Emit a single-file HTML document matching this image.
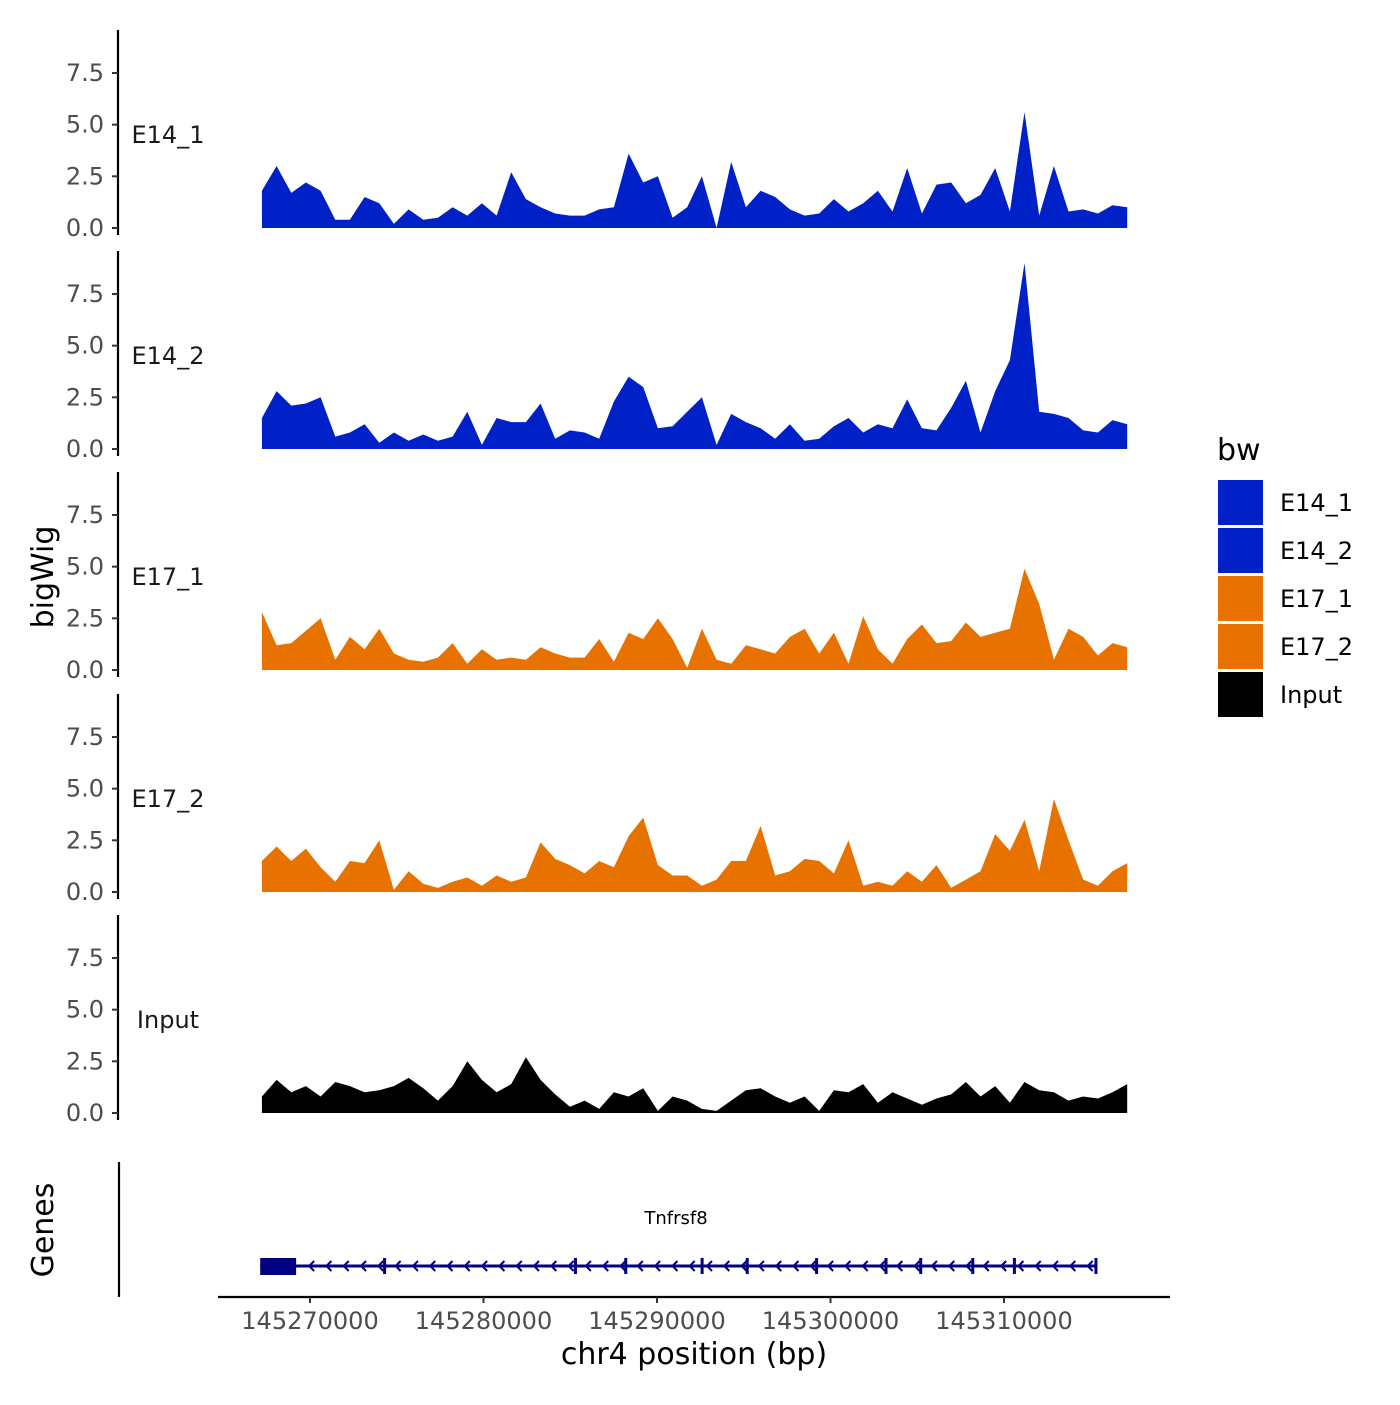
<!DOCTYPE html>
<html><head><meta charset="utf-8"><style>
html,body{margin:0;padding:0;background:#fff;}
svg text{font-family:"DejaVu Sans","Liberation Sans",sans-serif;}
</style></head><body>
<svg id="chart" width="1400" height="1400" xmlns="http://www.w3.org/2000/svg">
<rect width="1400" height="1400" fill="#fff"/>
</svg>
<script>
const trackNames = ["E14_1","E14_2","E17_1","E17_2","Input"];
const trackColors = ["#0020C8","#0020C8","#E87200","#E87200","#000000"];
const binStart = 145267230;
const binEnd = 145317100;
const e14_1 = [1.8,3.0,1.7,2.2,1.8,0.4,0.4,1.5,1.2,0.2,0.9,0.4,0.5,1.0,0.6,1.2,0.6,2.7,1.4,1.0,0.7,0.6,0.6,0.9,1.0,3.6,2.2,2.5,0.5,1.0,2.5,0,3.2,1.0,1.8,1.5,0.9,0.6,0.7,1.4,0.8,1.2,1.8,0.8,2.9,0.7,2.1,2.2,1.2,1.6,2.9,0.8,5.6,0.6,3.0,0.8,0.9,0.7,1.1,1.0];
const e14_2 = [1.5,2.8,2.1,2.2,2.5,0.6,0.8,1.2,0.3,0.8,0.4,0.7,0.4,0.6,1.8,0.2,1.5,1.3,1.3,2.2,0.5,0.9,0.8,0.5,2.3,3.5,3.0,1.0,1.1,1.8,2.5,0.2,1.7,1.3,1.0,0.5,1.2,0.4,0.5,1.1,1.5,0.8,1.2,1.0,2.4,1.0,0.9,2.0,3.3,0.8,2.8,4.3,9.0,1.8,1.7,1.5,0.9,0.8,1.4,1.2];
const e17_1 = [2.8,1.2,1.3,1.9,2.5,0.5,1.6,1.0,2.0,0.8,0.5,0.4,0.6,1.3,0.3,1.0,0.5,0.6,0.5,1.1,0.8,0.6,0.6,1.5,0.4,1.8,1.5,2.5,1.5,0.1,2.0,0.5,0.3,1.2,1.0,0.8,1.6,2.0,0.8,1.8,0.3,2.6,1.0,0.3,1.5,2.2,1.3,1.4,2.3,1.6,1.8,2.0,4.9,3.2,0.5,2.0,1.6,0.7,1.3,1.1];
const e17_2 = [1.5,2.2,1.5,2.1,1.2,0.5,1.5,1.4,2.5,0.1,1.0,0.4,0.2,0.5,0.7,0.3,0.8,0.5,0.7,2.4,1.6,1.3,0.9,1.5,1.2,2.7,3.6,1.3,0.8,0.8,0.3,0.6,1.5,1.5,3.2,0.8,1.0,1.6,1.5,0.9,2.5,0.3,0.5,0.3,1.0,0.5,1.3,0.2,0.6,1.0,2.8,2.0,3.5,1.0,4.5,2.5,0.6,0.3,1.0,1.4];
const inputSig = [0.8,1.6,1.0,1.3,0.8,1.5,1.3,1.0,1.1,1.3,1.7,1.2,0.6,1.3,2.5,1.6,1.0,1.4,2.7,1.6,0.9,0.3,0.6,0.2,1.0,0.8,1.2,0.1,0.8,0.6,0.2,0.1,0.6,1.1,1.2,0.8,0.5,0.8,0.1,1.1,1.0,1.4,0.5,1.0,0.7,0.4,0.7,0.9,1.5,0.8,1.3,0.5,1.5,1.1,1.0,0.6,0.8,0.7,1.0,1.4];
const trackValues = [e14_1,e14_2,e17_1,e17_2,inputSig];
const yTicks = [0,2.5,5,7.5];
const yTickLabels = ["0.0","2.5","5.0","7.5"];
const xTicks = [145270000,145280000,145290000,145300000,145310000];
const xTickLabels = ["145270000","145280000","145290000","145300000","145310000"];
const legendLabels = ["E14_1","E14_2","E17_1","E17_2","Input"];
const geneStart = 145267130;
const geneEnd = 145315360;
const geneThickEnd = 145269200;
const geneExons = [145274300,145285300,145288200,145292600,145295200,145299200,145303200,145305200,145308200,145310600,145315300];

const NS="http://www.w3.org/2000/svg";
const svg=document.getElementById('chart');
function mk(tag,attrs,parent){const e=document.createElementNS(NS,tag);for(const k in attrs)e.setAttribute(k,attrs[k]);(parent||svg).appendChild(e);return e;}
function xScale(bp){return 310+(bp-145270000)*0.01735;}
const zeros=[228,449,670,892,1113];
const pxPerUnit=20.67;
function yScale(t,v){return zeros[t]-v*pxPerUnit;}

for(let t=0;t<5;t++){
  const g=mk('g',{});
  
  
  const vals=trackValues[t];
  const step=(binEnd-binStart)/(vals.length-1);
  let d='M'+xScale(binStart)+','+zeros[t];
  vals.forEach((v,i)=>{d+=' L'+xScale(binStart+i*step).toFixed(1)+','+yScale(t,v).toFixed(1);});
  d+=' L'+xScale(binEnd)+','+zeros[t]+' Z';
  const p=mk('path',{d:d,fill:trackColors[t],stroke:'none'},g);
  
  
  const ax=mk('line',{x1:118,x2:118,y1:zeros[t]-198,y2:zeros[t]+7,stroke:'#000','stroke-width':2.2},g);
  
  
  yTicks.forEach((v,i)=>{
    const y=yScale(t,v);
    const tk=mk('line',{x1:112,x2:118,y1:y,y2:y,stroke:'#333','stroke-width':2},g);
    
    
    const tl=mk('text',{x:104,y:y+8,'text-anchor':'end','font-size':24,fill:'#4d4d4d'},g);
    tl.textContent=yTickLabels[i];
    
    
  });
  const lb=mk('text',{x:168,y:zeros[t]-85,'text-anchor':'middle','font-size':24,fill:'#1a1a1a'},g);
  lb.textContent=trackNames[t];
  
  
}

const yt=mk('text',{x:0,y:0,transform:'translate(53,577) rotate(-90)','text-anchor':'middle','font-size':30,fill:'#000'});
yt.textContent='bigWig';



const gp=mk('g',{});


const gax=mk('line',{x1:119,x2:119,y1:1162,y2:1297,stroke:'#000','stroke-width':2.2},gp);


const gt=mk('text',{x:0,y:0,transform:'translate(53,1230) rotate(-90)','text-anchor':'middle','font-size':30,fill:'#000'},gp);
gt.textContent='Genes';


const gl=mk('line',{x1:xScale(geneStart),x2:xScale(geneEnd),y1:1266,y2:1266,stroke:'#000080','stroke-width':3},gp);


for(let x=xScale(geneThickEnd)+14;x<xScale(geneEnd)-4;x+=17.3){
  const a=mk('path',{d:`M${x+4},1261 L${x-1},1266 L${x+4},1271`,fill:'none',stroke:'#000080','stroke-width':2},gp);
  
  
}
geneExons.forEach(b=>{
  const x=xScale(b);
  const e=mk('rect',{x:x-1.5,y:1258,width:3,height:16,fill:'#000080'},gp);
  
  
});
const gb=mk('rect',{x:xScale(geneStart),y:1258,width:xScale(geneThickEnd)-xScale(geneStart),height:17,fill:'#000080'},gp);


const gn=mk('text',{x:676,y:1224,'text-anchor':'middle','font-size':18,fill:'#000'},gp);
gn.textContent='Tnfrsf8';



const xa=mk('line',{x1:218,x2:1170,y1:1297,y2:1297,stroke:'#000','stroke-width':2.2});


xTicks.forEach((b,i)=>{
  const x=xScale(b);
  const tk=mk('line',{x1:x,x2:x,y1:1297,y2:1303,stroke:'#333','stroke-width':2});
  
  
  const tl=mk('text',{x:x,y:1329,'text-anchor':'middle','font-size':24,fill:'#4d4d4d'});
  tl.textContent=xTickLabels[i];
  
  
});
const xt=mk('text',{x:694,y:1364,'text-anchor':'middle','font-size':30,fill:'#000'});
xt.textContent='chr4 position (bp)';



const lg=mk('g',{});


const lt=mk('text',{x:1217,y:460,'font-size':30,fill:'#000'},lg);
lt.textContent='bw';


legendLabels.forEach((l,i)=>{
  const y=480+i*48;
  const r=mk('rect',{x:1218,y:y,width:45,height:45,fill:trackColors[i]},lg);
  
  
  const tx=mk('text',{x:1280,y:y+31,'font-size':24,fill:'#000'},lg);
  tx.textContent=l;
  
  
});
</script>
</body></html>
